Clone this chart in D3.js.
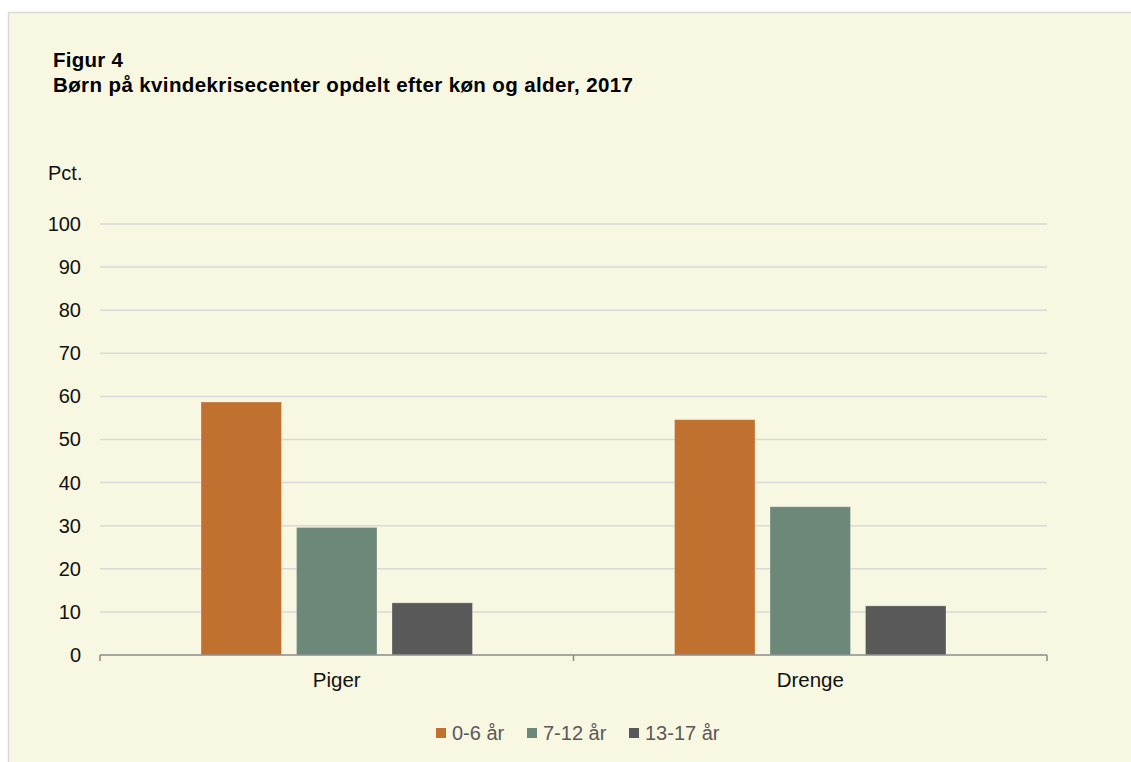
<!DOCTYPE html>
<html>
<head>
<meta charset="utf-8">
<script src="https://cdn.jsdelivr.net/npm/d3@7"></script>
<style>
  body { margin: 0; background: #ffffff; }
  svg { display: block; font-family: "Liberation Sans", Arial, sans-serif; }
</style>
</head>
<body>
<script>
// data
const categories = ["Piger", "Drenge"];
const seriesNames = ["0-6 år", "7-12 år", "13-17 år"];
const seriesColors = ["#c0702f", "#6b8878", "#595959"];
const values0to6 = [58.7, 54.6];
const values7to12 = [29.6, 34.4];
const values13to17 = [12.1, 11.4];
const yTicks = [0, 10, 20, 30, 40, 50, 60, 70, 80, 90, 100];

const seriesValues = [values0to6, values7to12, values13to17];

// constants
const WIDTH = 1131;
const HEIGHT = 762;
const LEFT = 100, RIGHT = 1047, TOP = 224, BOTTOM = 655;

const svg = d3.select("body")
    .append("svg")
    .attr("width", WIDTH)
    .attr("height", HEIGHT);

// panel background
svg.append("rect")
    .attr("x", 8.5).attr("y", 12.5)
    .attr("width", WIDTH).attr("height", HEIGHT)
    .attr("fill", "#f8f7e1")
    .attr("stroke", "#d9d9d9")
    .attr("stroke-width", 1.5);

// title
svg.append("text")
    .attr("x", 53).attr("y", 67)
    .attr("font-size", "20.5px").attr("font-weight", "bold").attr("fill", "#000")
    .attr("textLength", 70).attr("lengthAdjust", "spacing")
    .text("Figur 4");
svg.append("text")
    .attr("x", 53).attr("y", 92)
    .attr("font-size", "20.5px").attr("font-weight", "bold").attr("fill", "#000")
    .attr("textLength", 580).attr("lengthAdjust", "spacing")
    .text("Børn på kvindekrisecenter opdelt efter køn og alder, 2017");

// scales
const x0 = d3.scaleBand()
    .domain(categories)
    .range([LEFT, RIGHT])
    .padding(0);

const x1 = d3.scaleBand()
    .domain(seriesNames)
    .range([0, x0.bandwidth()])
    .paddingInner(0.157)
    .paddingOuter(1.058);

const y = d3.scaleLinear()
    .domain([0, 100])
    .range([BOTTOM, TOP]);

// gridlines
svg.append("g")
    .selectAll("line")
    .data(yTicks.filter(t => t > 0))
    .enter()
    .append("line")
    .attr("x1", LEFT).attr("x2", RIGHT)
    .attr("y1", d => y(d)).attr("y2", d => y(d))
    .attr("stroke", "#d9d9d9")
    .attr("stroke-width", 1.5);

// y axis labels
const yAxis = svg.append("g")
    .attr("transform", `translate(${LEFT},0)`)
    .call(d3.axisLeft(y).tickValues(yTicks).tickSize(0).tickPadding(19));
yAxis.select(".domain").remove();
yAxis.selectAll("text")
    .attr("font-size", "20px")
    .attr("font-family", "Liberation Sans, Arial, sans-serif")
    .attr("fill", "#111");

svg.append("text")
    .attr("x", 48).attr("y", 180)
    .attr("font-size", "20px").attr("fill", "#111")
    .text("Pct.");

// bars
const groups = svg.append("g")
    .selectAll("g")
    .data(categories)
    .enter()
    .append("g")
    .attr("transform", d => `translate(${x0(d)},0)`);

groups.selectAll("rect")
    .data((c, ci) => seriesNames.map((s, si) => ({ s: s, v: seriesValues[si][ci], color: seriesColors[si] })))
    .enter()
    .append("rect")
    .attr("x", d => x1(d.s))
    .attr("y", d => y(d.v))
    .attr("width", x1.bandwidth())
    .attr("height", d => BOTTOM - y(d.v))
    .attr("fill", d => d.color)
    .attr("stroke", "#ffffff")
    .attr("stroke-opacity", 0.35)
    .attr("stroke-width", 0.8);

// x axis
const xAxisScale = d3.scalePoint().domain([0, 1, 2]).range([LEFT, RIGHT]);
const xAxis = svg.append("g")
    .attr("transform", `translate(0,${BOTTOM})`);
xAxis.append("line")
    .attr("x1", LEFT).attr("x2", RIGHT)
    .attr("stroke", "#8c8c8c").attr("stroke-width", 1.5);
xAxis.selectAll("line.tick")
    .data(xAxisScale.domain())
    .enter()
    .append("line")
    .attr("class", "tick")
    .attr("x1", d => xAxisScale(d)).attr("x2", d => xAxisScale(d))
    .attr("y1", 0).attr("y2", 6)
    .attr("stroke", "#8c8c8c").attr("stroke-width", 1.5);
xAxis.selectAll("text")
    .data(categories)
    .enter()
    .append("text")
    .attr("x", d => x0(d) + x0.bandwidth() / 2)
    .attr("y", 32)
    .attr("text-anchor", "middle")
    .attr("font-size", "20.5px")
    .attr("fill", "#111")
    .text(d => d);

// legend
const legendX = [436, 527, 629];
const legend = svg.append("g")
    .selectAll("g")
    .data(seriesNames)
    .enter()
    .append("g")
    .attr("transform", (d, i) => `translate(${legendX[i]},728)`);
legend.append("rect")
    .attr("width", 10).attr("height", 10)
    .attr("fill", (d, i) => seriesColors[i]);
legend.append("text")
    .attr("x", 16).attr("y", 12)
    .attr("font-size", "20px")
    .attr("fill", "#595959")
    .text(d => d);
</script>
</body>
</html>
